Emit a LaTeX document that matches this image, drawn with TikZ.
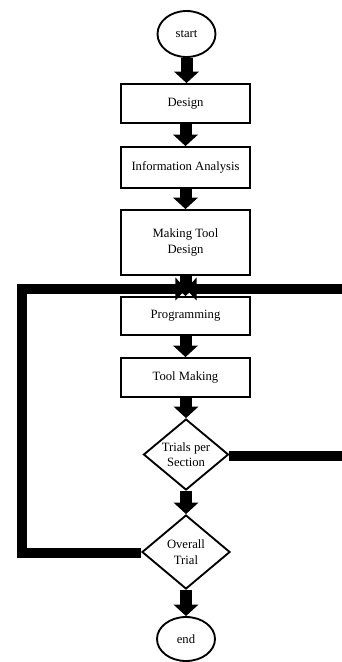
\documentclass[tikz,border=0pt]{standalone}
\usepackage{fontspec}
\setmainfont{Liberation Serif}
\usetikzlibrary{shapes.geometric,arrows.meta}

\tikzset{
  stepfont/.style={font=\fontsize{9.5}{11.5}\selectfont},
  procbox/.style={draw, line width=1.4pt, rectangle, minimum width=96.75pt, align=center, stepfont},
  termnode/.style={draw, line width=1.4pt, ellipse, minimum width=43.5pt, inner sep=0pt, stepfont},
  decnode/.style={draw, line width=1.4pt, diamond, shape aspect=1.2, inner sep=0pt, align=center, stepfont},
  flow/.style={line width=9pt, -{Triangle[width=18pt,length=8.5pt]}},
  backflow/.style={line width=8pt, -{Triangle[width=17pt,length=8pt]}},
}

\begin{document}
\begin{tikzpicture}[x=0.75pt, y=-0.75pt]
\useasboundingbox (0,0) rectangle (342,662);
% Terminals
\node[termnode, minimum height=34.5pt] (start) at (186.5,34) {start};
\node[termnode, minimum height=33pt] (end) at (186,639) {end};

% Process steps
\node[procbox, minimum height=29.25pt] (design) at (185.5,103.5) {Design};
\node[procbox, minimum height=30.75pt] (info) at (185.5,167.5) {Information Analysis};
\node[procbox, minimum height=48.75pt] (tooldes) at (185.5,242.5) {Making Tool\\Design};
\node[procbox, minimum height=28.5pt] (prog) at (185.5,316) {Programming};
\node[procbox, minimum height=29.25pt] (toolmk) at (185.5,377.5) {Tool Making};

% Decisions
\node[decnode, minimum width=63.75pt, minimum height=53.25pt] (trials) at (186,454.5) {Trials per\\Section};
\node[decnode, minimum width=66pt, minimum height=55.5pt] (overall) at (186,552) {Overall\\Trial};

% Loop points
\coordinate (merge) at (186,289);
\coordinate (leftbot) at (22,553);
\coordinate (rightmid) at (352,456);
\coordinate (righttop) at (352,289);

% Feedback lines
\draw[backflow] (overall.west |- leftbot) -- (leftbot) |- (merge);
\draw[line width=8pt] (trials.east |- rightmid) -- (rightmid) -- (righttop);
\draw[backflow] (righttop) -- (merge);

% Main flow
\draw[flow] (start) -- (start |- design.north);
\draw[flow] (design) -- (info);
\draw[flow] (info) -- (tooldes);
\draw[flow] (tooldes) -- (prog);
\draw[flow] (prog) -- (toolmk);
\draw[flow] (toolmk.south -| trials) -- (trials);
\draw[flow] (trials) -- (overall);
\draw[flow] (overall) -- (end);
\end{tikzpicture}
\end{document}
